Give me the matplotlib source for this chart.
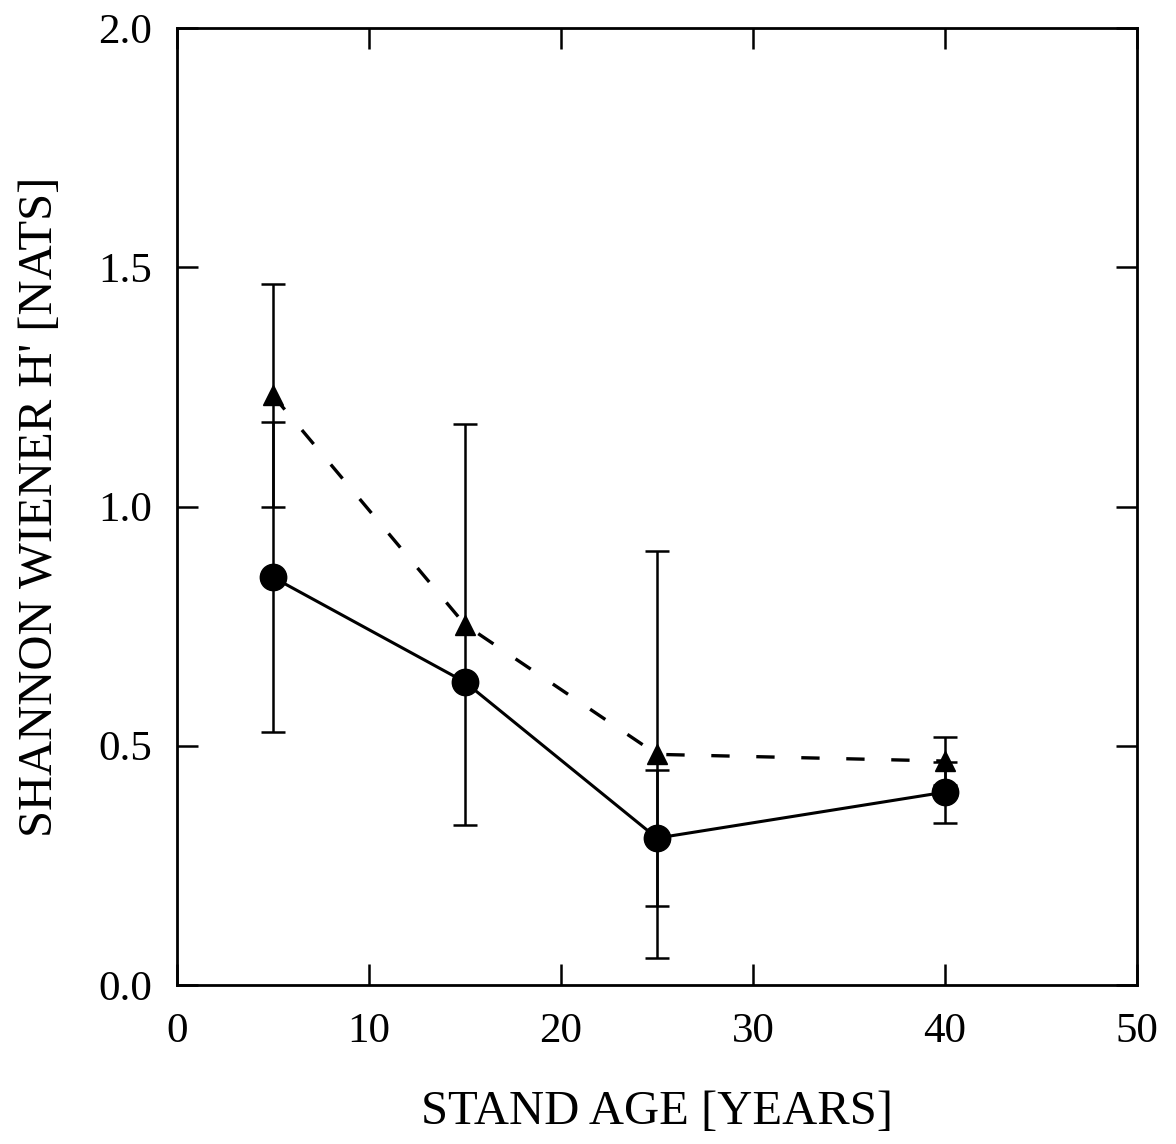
import matplotlib.pyplot as plt
import numpy as np

age = [5, 15, 25, 40]

# filled circles, solid line
h_circle = [0.852, 0.633, 0.307, 0.403]
err_circle = [0.324, 0.0, 0.142, 0.064]

# filled triangles, dashed line
h_tri = [1.232, 0.753, 0.482, 0.468]
err_tri = [0.233, 0.419, 0.425, 0.050]

xticks = [0, 10, 20, 30, 40, 50]
yticks = [0.0, 0.5, 1.0, 1.5, 2.0]

plt.rcParams['font.family'] = ['Liberation Serif', 'DejaVu Serif']

fig = plt.figure(figsize=(11.76, 11.44), dpi=100)
ax = fig.add_axes([0.1505, 0.139, 0.8163, 0.8365])

ax.errorbar(age, h_tri, yerr=err_tri, fmt='^', color='black', ms=14,
            capsize=8.5, elinewidth=1.8, capthick=1.8, zorder=3)
ax.plot(age, h_tri, color='black', lw=2.4, dashes=(5.5, 8), zorder=2)

ax.errorbar(age, h_circle, yerr=err_circle, fmt='o', color='black', ms=19,
            capsize=8.5, elinewidth=1.8, capthick=1.8, zorder=4)
ax.plot(age, h_circle, color='black', lw=2.2, zorder=2)

ax.set_xlim(0, 50)
ax.set_ylim(0, 2.0)
ax.set_xticks(xticks)
ax.set_yticks(yticks)
ax.set_xticklabels([str(t) for t in xticks])
ax.set_yticklabels(['%.1f' % t for t in yticks])
ax.tick_params(direction='in', length=15, width=1.8, labelsize=31,
               top=True, right=True)
ax.tick_params(axis='x', pad=20)
ax.tick_params(axis='y', pad=18)
for s in ax.spines.values():
    s.set_linewidth(2)

ax.set_xlabel('STAND AGE [YEARS]', fontsize=35, labelpad=28)
ax.set_ylabel("SHANNON WIENER H' [NATS]", fontsize=35, labelpad=26)

fig.savefig('out.png', dpi=100)
